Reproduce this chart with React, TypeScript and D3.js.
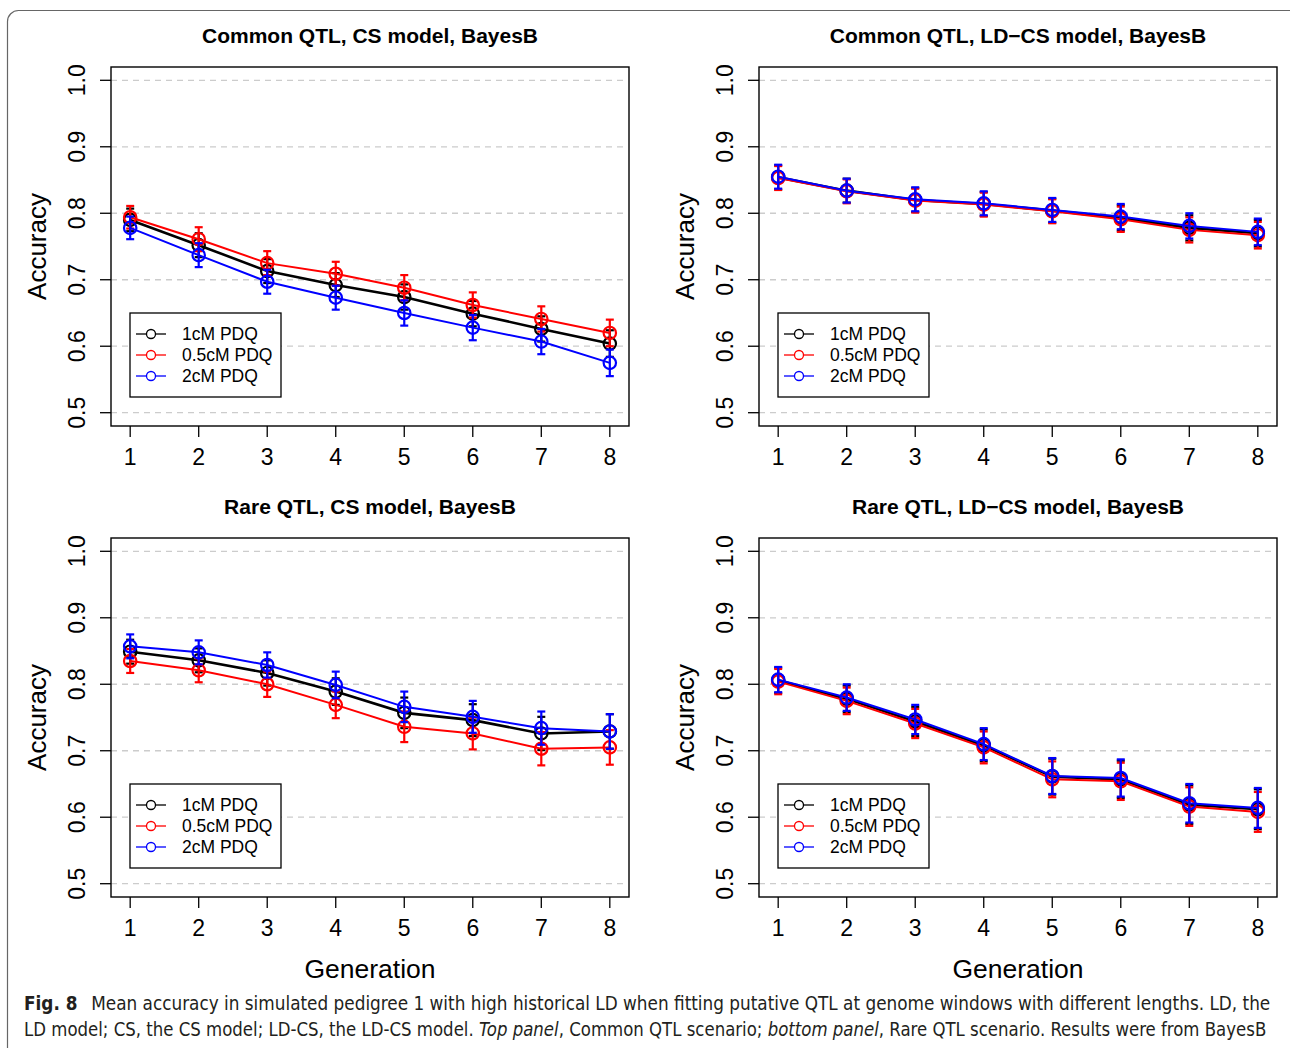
import React, { useLayoutEffect, useRef, useState } from "react";
import * as d3 from "d3";

const generations = [1, 2, 3, 4, 5, 6, 7, 8];
const yTicks = [0.5, 0.6, 0.7, 0.8, 0.9, 1.0];
const seriesNames = ["1cM PDQ", "0.5cM PDQ", "2cM PDQ"];
const seriesColors = ["#000000", "#ff0000", "#0000ff"];

// Common QTL, CS model
const commonCS1cM = [0.79, 0.752, 0.713, 0.692, 0.674, 0.649, 0.626, 0.604];
const commonCS05cM = [0.794, 0.761, 0.725, 0.709, 0.688, 0.662, 0.641, 0.62];
const commonCS2cM = [0.778, 0.737, 0.697, 0.673, 0.65, 0.628, 0.607, 0.575];
const commonCSErr = [0.017, 0.018, 0.018, 0.018, 0.019, 0.019, 0.019, 0.02];

// Common QTL, LD-CS model
const commonLDCS1cM = [0.854, 0.834, 0.82, 0.814, 0.804, 0.793, 0.778, 0.77];
const commonLDCS05cM = [0.853, 0.833, 0.819, 0.813, 0.803, 0.791, 0.775, 0.767];
const commonLDCS2cM = [0.855, 0.834, 0.821, 0.815, 0.805, 0.795, 0.781, 0.772];
const commonLDCSErr = [0.018, 0.018, 0.018, 0.018, 0.018, 0.019, 0.019, 0.02];

// Rare QTL, CS model
const rareCS1cM = [0.849, 0.836, 0.817, 0.789, 0.757, 0.746, 0.726, 0.729];
const rareCS05cM = [0.835, 0.821, 0.8, 0.769, 0.736, 0.726, 0.703, 0.705];
const rareCS2cM = [0.857, 0.848, 0.829, 0.799, 0.766, 0.751, 0.734, 0.729];
const rareCSErr = [0.018, 0.018, 0.019, 0.02, 0.023, 0.024, 0.025, 0.026];

// Rare QTL, LD-CS model
const rareLDCS1cM = [0.806, 0.778, 0.744, 0.708, 0.661, 0.657, 0.619, 0.612];
const rareLDCS05cM = [0.804, 0.775, 0.741, 0.705, 0.657, 0.654, 0.616, 0.608];
const rareLDCS2cM = [0.807, 0.78, 0.747, 0.71, 0.662, 0.659, 0.621, 0.614];
const rareLDCSErr = [0.019, 0.02, 0.022, 0.024, 0.027, 0.028, 0.029, 0.03];

const panels = [
  { title: "Common QTL, CS model, BayesB", series: [commonCS1cM, commonCS05cM, commonCS2cM], err: commonCSErr },
  { title: "Common QTL, LD\u2212CS model, BayesB", series: [commonLDCS1cM, commonLDCS05cM, commonLDCS2cM], err: commonLDCSErr },
  { title: "Rare QTL, CS model, BayesB", series: [rareCS1cM, rareCS05cM, rareCS2cM], err: rareCSErr },
  { title: "Rare QTL, LD\u2212CS model, BayesB", series: [rareLDCS1cM, rareLDCS05cM, rareLDCS2cM], err: rareLDCSErr },
];

const FONT = "'Liberation Sans', Arial, Helvetica, sans-serif";
const CAPTION_FONT = "'Liberation Sans Narrow', 'DejaVu Sans Condensed', sans-serif";

const Panel = ({ panel, left, top }) => {
  // plot box
  const x0 = left, x1 = left + 518;
  const y0 = top, y1 = top + 359;
  const x = d3.scaleLinear().domain([0.72, 8.28]).range([x0, x1]);
  const y = d3.scaleLinear().domain([0.48, 1.02]).range([y1, y0]);
  const line = d3.line<number>().x((d, i) => x(generations[i])).y(d => y(d));
  const cx = (x0 + x1) / 2;
  const cy = (y0 + y1) / 2;

  return (
    <g>
      <text x={cx} y={top - 24} textAnchor="middle" fontFamily={FONT} fontWeight="bold" fontSize={21}>
        {panel.title}
      </text>

      {yTicks.map(t => (
        <line key={"g" + t} x1={x0} x2={x1 - 5} y1={y(t)} y2={y(t)} stroke="#cccccc" strokeWidth={1.3} strokeDasharray="6,5" />
      ))}

      <rect x={x0} y={y0} width={x1 - x0} height={y1 - y0} fill="none" stroke="#000" strokeWidth={1.4} />

      {yTicks.map(t => (
        <g key={"y" + t}>
          <line x1={x0 - 11} x2={x0} y1={y(t)} y2={y(t)} stroke="#000" strokeWidth={1.3} />
          <text
            transform={`translate(${x0 - 34},${y(t)}) rotate(-90)`}
            textAnchor="middle"
            dy="0.35em"
            fontFamily={FONT}
            fontSize={23}
          >
            {t.toFixed(1)}
          </text>
        </g>
      ))}

      {generations.map(g => (
        <g key={"x" + g}>
          <line x1={x(g)} x2={x(g)} y1={y1} y2={y1 + 11} stroke="#000" strokeWidth={1.3} />
          <text x={x(g)} y={y1 + 39} textAnchor="middle" fontFamily={FONT} fontSize={23}>
            {g}
          </text>
        </g>
      ))}

      <text
        transform={`translate(${x0 - 74},${cy}) rotate(-90)`}
        textAnchor="middle"
        dy="0.35em"
        fontFamily={FONT}
        fontSize={26}
      >
        Accuracy
      </text>

      {panel.series.map((vals, si) => (
        <g key={"s" + si}>
          <path d={line(vals) || ""} fill="none" stroke={seriesColors[si]} strokeWidth={si === 0 ? 2.6 : 2} />
          {vals.map((v, i) => {
            const px = x(generations[i]);
            const e = panel.err[i];
            return (
              <g key={i} stroke={seriesColors[si]} strokeWidth={2.2} fill="none">
                <line x1={px} x2={px} y1={y(v - e)} y2={y(v + e)} />
                <line x1={px - 4} x2={px + 4} y1={y(v - e)} y2={y(v - e)} />
                <line x1={px - 4} x2={px + 4} y1={y(v + e)} y2={y(v + e)} />
                <circle cx={px} cy={y(v)} r={6.2} />
              </g>
            );
          })}
        </g>
      ))}

      <g>
        <rect x={x0 + 19} y={y1 - 113} width={151} height={84} fill="#fff" stroke="#000" strokeWidth={1.3} />
        {seriesNames.map((name, i) => {
          const ry = y1 - 92 + i * 21;
          return (
            <g key={name}>
              <line x1={x0 + 25} x2={x0 + 55} y1={ry} y2={ry} stroke={seriesColors[i]} strokeWidth={1.3} />
              <circle cx={x0 + 40} cy={ry} r={4.5} fill="#fff" stroke={seriesColors[i]} strokeWidth={1.3} />
              <text x={x0 + 71} y={ry} dy="0.36em" fontFamily={FONT} fontSize={17.5}>
                {name}
              </text>
            </g>
          );
        })}
      </g>
    </g>
  );
};

// caption line squeezed horizontally to a target width
const CaptionLine = ({ y, width, children }) => {
  const ref = useRef<SVGTextElement>(null);
  const [sx, setSx] = useState(1);
  useLayoutEffect(() => {
    if (!ref.current) return;
    const w = ref.current.getBBox().width;
    if (w > 0) setSx(width / w);
  }, [width]);
  return (
    <g transform={`translate(24,${y}) scale(${sx},1)`}>
      <text ref={ref} x={0} y={0} fontFamily={CAPTION_FONT} fontSize={19} fill="#231f20">
        {children}
      </text>
    </g>
  );
};

const App = () => {
  const positions = [
    { left: 111, top: 67 },
    { left: 759, top: 67 },
    { left: 111, top: 538 },
    { left: 759, top: 538 },
  ];
  return (
    <svg
      width={1290}
      height={1048}
      style={{ position: "absolute", left: 0, top: 0, background: "#fff" }}
    >
      <rect x={7.5} y={10.5} width={1300} height={1100} rx={11} fill="#fff" stroke="#666" strokeWidth={1.2} />
      {panels.map((p, i) => (
        <Panel key={i} panel={p} left={positions[i].left} top={positions[i].top} />
      ))}
      <text x={370} y={978} textAnchor="middle" fontFamily={FONT} fontSize={26.5}>Generation</text>
      <text x={1018} y={978} textAnchor="middle" fontFamily={FONT} fontSize={26.5}>Generation</text>

      <CaptionLine y={1010} width={1247}>
        <tspan fontWeight="bold">Fig. 8</tspan>
        <tspan>{"\u2002 Mean accuracy in simulated pedigree 1 with high historical LD when fitting putative QTL at genome windows with different lengths. LD, the"}</tspan>
      </CaptionLine>
      <CaptionLine y={1036} width={1243}>
        <tspan>{"LD model; CS, the CS model; LD-CS, the LD-CS model. "}</tspan>
        <tspan fontStyle="italic">Top panel</tspan>
        <tspan>{", Common QTL scenario; "}</tspan>
        <tspan fontStyle="italic">bottom panel</tspan>
        <tspan>, Rare QTL scenario. Results were from BayesB</tspan>
      </CaptionLine>
    </svg>
  );
};

export default App;
